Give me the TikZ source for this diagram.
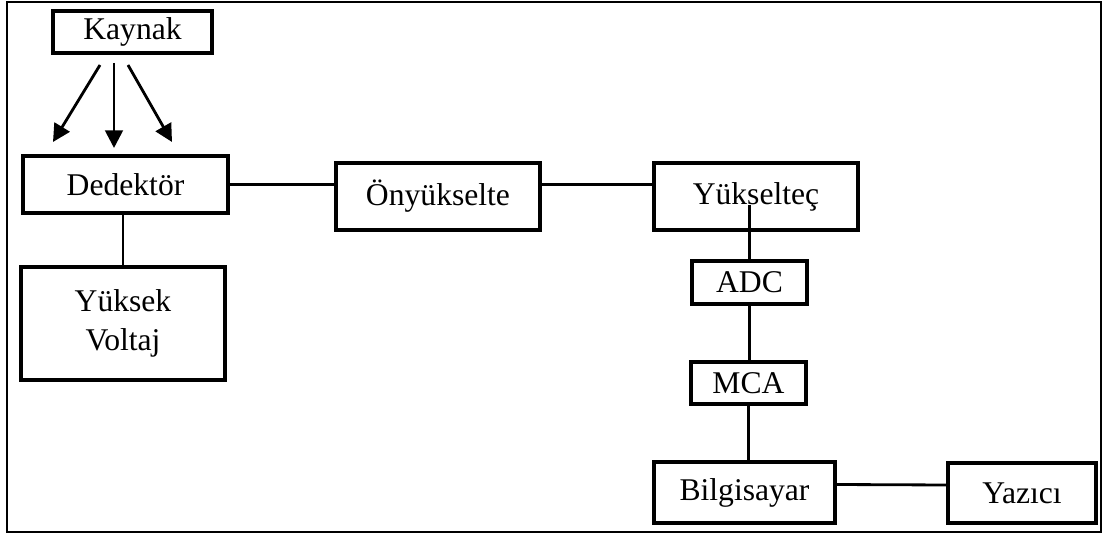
\documentclass[tikz,border=0pt]{standalone}
\usepackage{fontspec}
\setmainfont{Liberation Serif}
\usetikzlibrary{arrows.meta}

\begin{document}
\begin{tikzpicture}[x=0.02cm, y=-0.02cm,
			blok/.style={draw, line width=2pt, inner sep=0pt, align=center, font=\fontsize{18}{22}\selectfont},
			hat/.style={line width=1.6pt},
			ok/.style={line width=1.6pt, -{Triangle[length=10pt,width=10pt]}}
		]
		\useasboundingbox (0,0) rectangle (1105,536);
		\draw[line width=1.1pt] (7,2) rectangle (1101,532);

		\node[blok, minimum width=3.18cm, minimum height=0.84cm] (kay) at (132.5,32) {Kaynak};
		\node[blok, minimum width=4.1cm, minimum height=1.14cm] (ded) at (125.5,184.5) {Dedektör};
		\node[blok, minimum width=4.08cm, minimum height=2.26cm] (yv) at (123,323.5) {Yüksek\\Voltaj};
		\node[blok, minimum width=4.08cm, minimum height=1.34cm] (ony) at (438,196.5) {Önyükselte};
		\node[blok, minimum width=4.08cm, minimum height=1.34cm] (yuk) at (756,196.5) {Yükselteç};
		\node[blok, minimum width=2.3cm, minimum height=0.86cm] (adc) at (749.5,282.5) {ADC};
		\node[blok, minimum width=2.3cm, minimum height=0.84cm] (mca) at (748.5,383) {MCA};
		\node[blok, minimum width=3.62cm, minimum height=1.22cm] (bil) at (744.5,492.5) {Bilgisayar};
		\node[blok, minimum width=2.96cm, minimum height=1.2cm] (yaz) at (1022,493) {Yazıcı};

		\coordinate (k1) at (100,65);
		\coordinate (k2) at (114,63);
		\coordinate (k3) at (128,65);
		\coordinate (d1) at (53,142);
		\coordinate (d2) at (114,148);
		\coordinate (d3) at (172,142);

		\draw[ok] (k1) -- (d1);
		\draw[ok] (k2) -- (d2);
		\draw[ok] (k3) -- (d3);

		\draw[hat] (yv.north) -- (yv.north |- ded.south);
		\draw[hat] (ded.east) -- (ded.east -| ony.west);
		\draw[hat] (ony.east |- ded.east) -- (yuk.west |- ded.east);
		\draw[hat] (adc.north) -- (adc.north |- 0,205);
		\draw[hat] (adc.south) -- (adc.south |- mca.north);
		\draw[hat] (mca.south) -- (mca.south |- bil.north);
		\draw[hat] ([yshift=0.16cm]bil.east) -- ([yshift=0.16cm]yaz.west);
	\end{tikzpicture}
\end{document}
